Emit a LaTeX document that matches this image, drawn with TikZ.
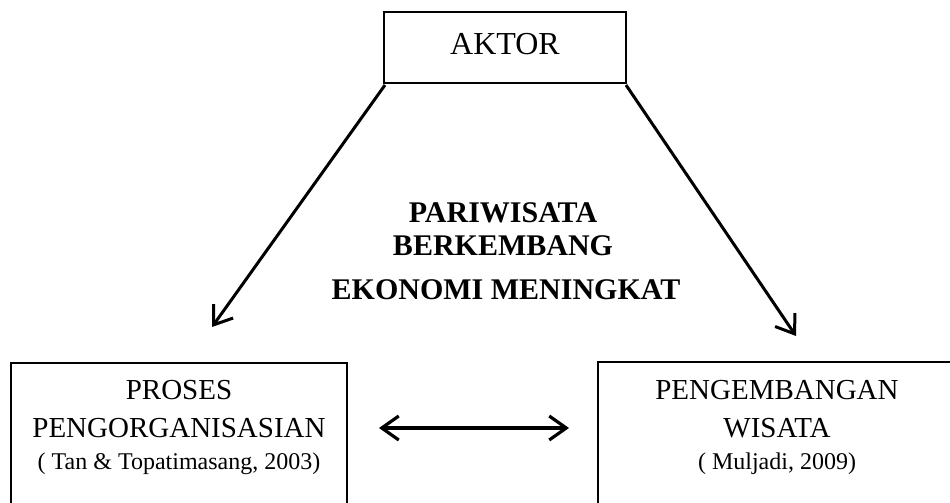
\documentclass[tikz,border=0pt]{standalone}
\usepackage{fontspec}
\setmainfont{Liberation Serif}
\usetikzlibrary{arrows.meta}
\begin{document}
\begin{tikzpicture}[x=1pt,y=-1pt,
  box/.style={draw, line width=2pt, inner sep=0pt, outer sep=0pt},
  main/.style={anchor=base, inner sep=0pt, font=\fontsize{29}{34}\selectfont},
  cite/.style={anchor=base, inner sep=0pt, font=\fontsize{24}{28}\selectfont},
  centre/.style={anchor=base, inner sep=0pt, font=\fontsize{30}{34}\selectfont\bfseries},
  conn/.style={line width=3pt, -{Straight Barb[length=17pt, width=24pt, line width=3pt]}},
  dconn/.style={line width=3.2pt, {Straight Barb[length=17pt, width=24pt, line width=3.2pt]}-{Straight Barb[length=17pt, width=24pt, line width=3.2pt]}}
]
\useasboundingbox (0,0) rectangle (950,503);
% boxes
\node[box, minimum width=242pt, minimum height=71pt] (aktor) at (505,47.5) {};
\node[box, minimum width=336pt, minimum height=170pt] (proses) at (179,448) {};
\node[box, minimum width=358pt, minimum height=170pt] (pengembangan) at (777,447) {};
% texts
\node[main, font=\fontsize{32}{38}\selectfont] (taktor) at (505,55) {AKTOR};
\node[centre] (t1) at (503,222) {PARIWISATA};
\node[centre] (t2) at (503,255) {BERKEMBANG};
\node[centre] (t3) at (506,299) {EKONOMI MENINGKAT};
\node[main] (p1) at (179,399) {PROSES};
\node[main] (p2) at (179,437) {PENGORGANISASIAN};
\node[cite] (p3) at (179,469) {( Tan \& Topatimasang, 2003)};
\node[main] (w1) at (777,399) {PENGEMBANGAN};
\node[main] (w2) at (777,437) {WISATA};
\node[cite] (w3) at (777,469) {( Muljadi, 2009)};
% connectors
\coordinate (tipL) at (212,327);
\coordinate (tipR) at (796,336);
\coordinate (dL) at (379,428);
\coordinate (dR) at (569,428);
\draw[conn] ([shift={(1,2)}]aktor.south west) -- (tipL);
\draw[conn] ([shift={(0,2)}]aktor.south east) -- (tipR);
\draw[dconn] (dL) -- (dR);
\end{tikzpicture}
\end{document}
